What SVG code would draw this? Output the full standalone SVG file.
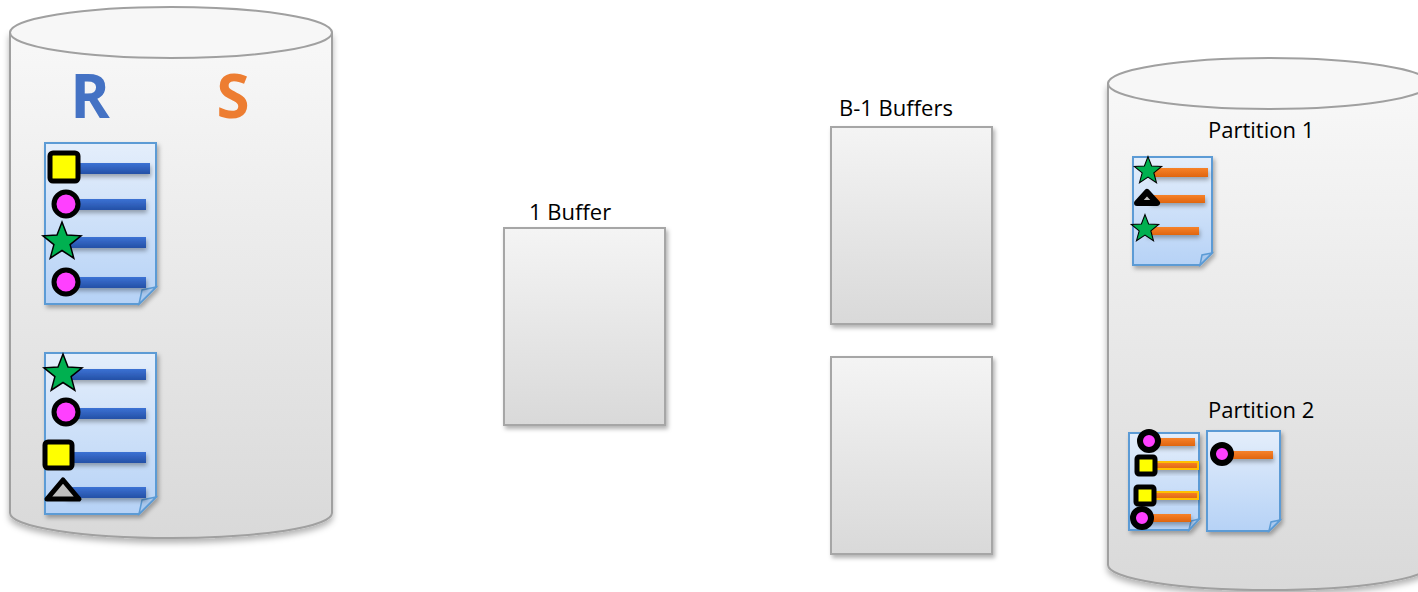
<svg xmlns="http://www.w3.org/2000/svg" width="1418" height="592" viewBox="0 0 1418 592">
<style>
.lbl{font-family:"Open Sans","Liberation Sans",sans-serif;font-size:22px;fill:#000}
.big{font-family:"Open Sans","Liberation Sans",sans-serif;font-size:60px;font-weight:bold}
.cylb{fill:url(#gCyl);stroke:#a0a0a0;stroke-width:2}
.cylt{fill:#f7f7f7;stroke:#a0a0a0;stroke-width:2}
.buf{fill:url(#gBuf);stroke:#a6a6a6;stroke-width:2;filter:url(#sh)}
.doc{fill:url(#gDoc);stroke:#5b9bd5;stroke-width:2;filter:url(#sh)}
.fold{fill:#a9c8ee;stroke:#5b9bd5;stroke-width:1.5}
.bb{fill:url(#gBlue);filter:url(#shs)}
.ob{fill:url(#gOr);filter:url(#shs)}
.oy{fill:url(#gOr);stroke:#ffc000;stroke-width:2;filter:url(#shs)}
.sq{fill:#ffff00;stroke:#000;stroke-width:5;stroke-linejoin:round}
.sqs{fill:#ffff00;stroke:#000;stroke-width:5;stroke-linejoin:round}
.ci{fill:#ff40ff;stroke:#000;stroke-width:5}
.cis{fill:#ff40ff;stroke:#000;stroke-width:6}
.st{fill:#00b050;stroke:#000;stroke-width:1.5;stroke-linejoin:miter}
.tr{fill:#bfbfbf;stroke:#000;stroke-width:5;stroke-linejoin:round}
.trs{fill:#bfbfbf;stroke:#000;stroke-width:6;stroke-linejoin:round}
</style>
<defs>
<linearGradient id="gCyl" x1="0" y1="0" x2="0" y2="1"><stop offset="0" stop-color="#f8f8f8"/><stop offset="1" stop-color="#d9d9d9"/></linearGradient>
<linearGradient id="gBuf" x1="0" y1="0" x2="0" y2="1"><stop offset="0" stop-color="#f4f4f4"/><stop offset="1" stop-color="#d9d9d9"/></linearGradient>
<linearGradient id="gDoc" x1="0" y1="0" x2="0" y2="1"><stop offset="0" stop-color="#e4eefb"/><stop offset="1" stop-color="#b6d2f6"/></linearGradient>
<linearGradient id="gBlue" x1="0" y1="0" x2="0" y2="1"><stop offset="0" stop-color="#3c72d4"/><stop offset="1" stop-color="#2550a6"/></linearGradient>
<linearGradient id="gOr" x1="0" y1="0" x2="0" y2="1"><stop offset="0" stop-color="#f6822a"/><stop offset="1" stop-color="#e0650f"/></linearGradient>
<filter id="sh" x="-20%" y="-20%" width="150%" height="150%"><feDropShadow dx="2" dy="3" stdDeviation="2" flood-color="#000" flood-opacity="0.3"/></filter>
<filter id="shs" x="-20%" y="-50%" width="150%" height="250%"><feDropShadow dx="1" dy="3" stdDeviation="2" flood-color="#000" flood-opacity="0.3"/></filter>
<filter id="shc" x="-10%" y="-10%" width="120%" height="120%"><feDropShadow dx="0" dy="4" stdDeviation="3" flood-color="#000" flood-opacity="0.3"/></filter>
<path id="star" d="M0,-20 L5,-6.9 L19,-6.2 L8.1,2.6 L11.8,16.2 L0,8.5 L-11.8,16.2 L-8.1,2.6 L-19,-6.2 L-5,-6.9 Z"/>
</defs>

<g id="disk-left">
<path class="cylb" filter="url(#shc)" d="M10,32.5 V513 A161,25 0 0 0 332,513 V32.5 Z"/>
<ellipse class="cylt" cx="171" cy="32.5" rx="161" ry="25.5"/>
<text class="big" x="90" y="118" text-anchor="middle" fill="#4472c4">R</text>
<text class="big" x="233" y="118" text-anchor="middle" fill="#ed7d31">S</text>
</g>

<g id="r-page-1">
<path class="doc" d="M45,143 H156 V287 L139,304 H45 Z"/>
<path class="fold" d="M156,287 L142,290 L139,304 Z"/>
<rect class="bb" x="66" y="163" width="84" height="11"/>
<rect class="sq" x="50" y="153" width="28" height="28" rx="3"/>
<rect class="bb" x="70" y="199" width="76" height="11"/>
<circle class="ci" cx="66" cy="204" r="12"/>
<rect class="bb" x="66" y="237" width="80" height="11"/>
<use href="#star" class="st" x="62" y="242"/>
<rect class="bb" x="70" y="277" width="76" height="11"/>
<circle class="ci" cx="66" cy="282" r="12"/>
</g>

<g id="r-page-2">
<path class="doc" d="M45,353 H156 V497 L139,514 H45 Z"/>
<path class="fold" d="M156,497 L142,500 L139,514 Z"/>
<rect class="bb" x="66" y="369" width="80" height="11"/>
<use href="#star" class="st" x="63" y="374"/>
<rect class="bb" x="70" y="408" width="76" height="11"/>
<circle class="ci" cx="66" cy="412" r="12"/>
<rect class="bb" x="62" y="452" width="84" height="11"/>
<rect class="sq" x="45" y="442" width="27" height="26" rx="3"/>
<rect class="bb" x="66" y="487" width="80" height="11"/>
<path class="tr" d="M63,480 L79,499 L47,499 Z"/>
</g>

<g id="buffer-1">
<rect class="buf" x="504" y="228" width="161" height="197"/>
<text class="lbl" x="529" y="220">1 Buffer</text>
</g>

<g id="buffers-b-1">
<text class="lbl" x="839" y="116">B-1 Buffers</text>
<rect class="buf" x="831" y="127" width="161" height="197"/>
<rect class="buf" x="831" y="357" width="161" height="197"/>
</g>

<g id="disk-right">
<path class="cylb" filter="url(#shc)" d="M1108,83.5 V565 A161,25 0 0 0 1430,565 V83.5 Z"/>
<ellipse class="cylt" cx="1269" cy="83.5" rx="161" ry="25.5"/>
<text class="lbl" x="1208" y="138">Partition 1</text>
<text class="lbl" x="1208" y="418">Partition 2</text>
</g>

<g id="partition-1-page">
<path class="doc" d="M1133,157 H1212 V253 L1200,265 H1133 Z"/>
<path class="fold" d="M1212,253 L1202,255 L1200,265 Z"/>
<rect class="ob" x="1150" y="168" width="58" height="9"/>
<use href="#star" class="st" transform="translate(1148,171) scale(0.72)"/>
<rect class="ob" x="1150" y="195" width="55" height="8"/>
<path class="trs" d="M1147,192 L1157,203 L1137,203 Z"/>
<rect class="ob" x="1146" y="227" width="53" height="8"/>
<use href="#star" class="st" transform="translate(1145,229) scale(0.72)"/>
</g>

<g id="partition-2-page-1">
<path class="doc" d="M1129,433 H1199 V519 L1189,530 H1129 Z"/>
<path class="fold" d="M1199,519 L1191,521 L1189,530 Z"/>
<rect class="ob" x="1150" y="438" width="45" height="8"/>
<circle class="cis" cx="1149" cy="441" r="9"/>
<rect class="oy" x="1150" y="462" width="48" height="7"/>
<rect class="sqs" x="1137" y="457" width="18" height="17" rx="2"/>
<rect class="oy" x="1150" y="492" width="48" height="7"/>
<rect class="sqs" x="1136" y="487" width="18" height="17" rx="2"/>
<rect class="ob" x="1144" y="514" width="47" height="8"/>
<circle class="cis" cx="1142" cy="518" r="9"/>
</g>

<g id="partition-2-page-2">
<path class="doc" d="M1207,431 H1280 V520 L1269,531 H1207 Z"/>
<path class="fold" d="M1280,520 L1271,522 L1269,531 Z"/>
<rect class="ob" x="1224" y="451" width="49" height="8"/>
<circle class="cis" cx="1222" cy="454" r="9"/>
</g>

<g id="connectors"></g>
</svg>
